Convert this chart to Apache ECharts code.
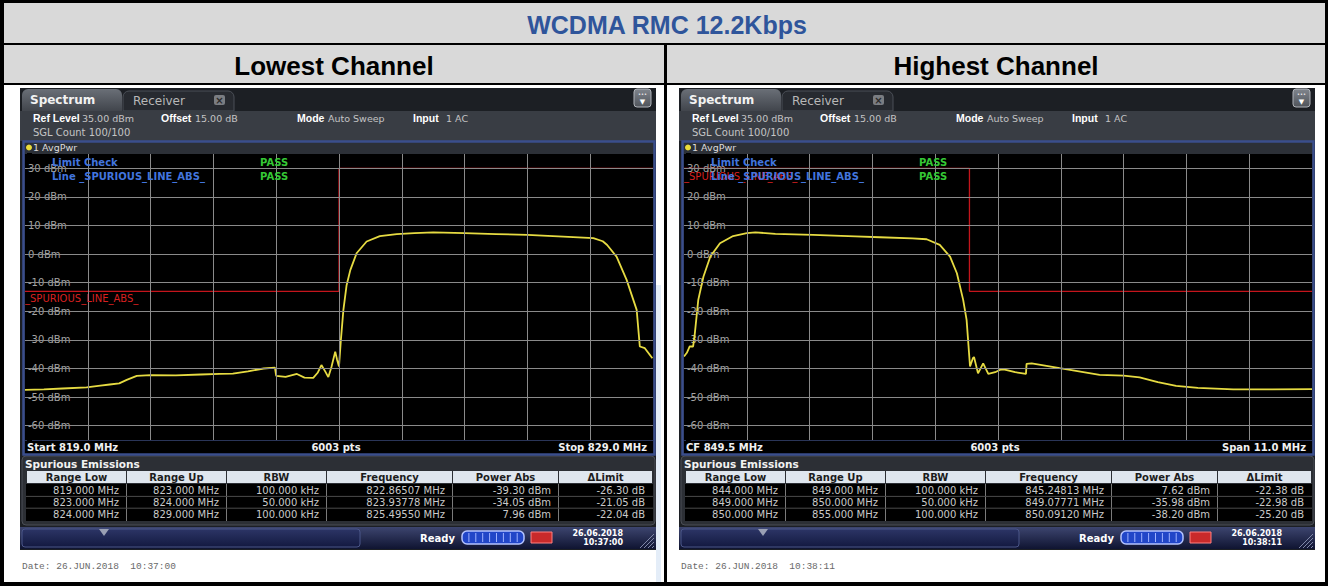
<!DOCTYPE html>
<html>
<head>
<meta charset="utf-8">
<script src="https://cdn.jsdelivr.net/npm/echarts@6/dist/echarts.min.js"></script>
<style>
html, body { margin: 0; padding: 0; background: #fff; }
#main { width: 1328px; height: 586px; }
</style>
</head>
<body>
<div id="main"></div>
<script>
// trace (MHz / dBm)
var lowFreq = [819.00, 819.30, 819.60, 819.98, 820.20, 820.35, 820.50, 820.62, 820.78, 821.00, 821.40, 821.80, 822.10, 822.31, 822.55, 822.80, 822.98,
  823.00, 823.15, 823.33, 823.45, 823.59, 823.66, 823.72, 823.78, 823.83, 823.88, 823.94, 823.97, 824.00,
  824.03, 824.07, 824.12, 824.18, 824.28, 824.44, 824.65, 824.92, 825.20, 825.50, 826.00, 826.50, 827.00, 827.57, 828.05, 828.20, 828.27,
  828.42, 828.58, 828.74, 828.79, 828.87, 828.99, 829.00];
var lowPower = [-47.5, -47.3, -47.0, -46.6, -46.0, -45.6, -45.2, -44.0, -42.6, -42.3, -42.4, -42.1, -41.9, -41.8, -41.0, -40.0, -39.7,
  -42.6, -42.9, -41.9, -43.2, -43.3, -41.5, -38.8, -41.0, -43.0, -39.5, -34.1, -37.0, -39.3,
  -30.0, -19.5, -11.0, -5.6, 0.3, 4.4, 6.3, 7.0, 7.3, 7.6, 7.3, 7.0, 6.7, 6.1, 5.6, 4.5, 3.2,
  -0.9, -9.0, -19.5, -32.3, -32.9, -36.4, -36.5];

// trace
var highFreq = [844.00, 844.05, 844.10, 844.16, 844.19, 844.25, 844.34, 844.46, 844.63, 844.86, 845.10, 845.25, 845.60, 846.26, 847.00, 847.43,
  848.00, 848.25, 848.48, 848.66, 848.78, 848.89, 848.95, 849.01, 849.06, 849.08, 849.15, 849.24, 849.33, 849.45, 849.53, 849.60, 849.80,
  849.99, 850.00, 850.09, 850.58, 851.28, 851.70, 851.98, 852.30, 852.62, 853.00, 853.62, 854.30, 855.00];
var highPower = [-35.8, -34.5, -32.3, -32.3, -27.7, -16.0, -7.9, -0.9, 3.8, 6.3, 7.3, 7.6, 7.1, 6.7, 6.2, 5.9,
  5.5, 5.2, 3.2, -0.9, -6.7, -16.0, -23.0, -39.3, -36.4, -36.0, -41.7, -38.2, -41.9, -41.3, -40.5, -40.3, -41.3,
  -41.9, -38.4, -38.2, -39.9, -42.2, -42.5, -43.1, -44.8, -46.1, -46.8, -47.3, -47.3, -47.2];

// limit lines
var lowLimitFreq = [819, 824, 824, 829];
var lowLimitLevel = [-13, -13, 30, 30];
var highLimitFreq = [844, 849, 849, 855];
var highLimitLevel = [30, 30, -13, -13];

// grid divisions
var levelTicks = [30, 20, 10, 0, -10, -20, -30, -40, -50, -60];
var lowFreqTicks = [820, 821, 822, 823, 824, 825, 826, 827, 828];
var highFreqTicks = [845.1, 846.2, 847.3, 848.4, 849.5, 850.6, 851.7, 852.8, 853.9];

// spurious emissions tables
var tableHead = ['Range Low', 'Range Up', 'RBW', 'Frequency', 'Power Abs', '\u0394Limit'];
var lowRows = [
  ['819.000 MHz', '823.000 MHz', '100.000 kHz', '822.86507 MHz', '-39.30 dBm', '-26.30 dB'],
  ['823.000 MHz', '824.000 MHz', '50.000 kHz', '823.93778 MHz', '-34.05 dBm', '-21.05 dB'],
  ['824.000 MHz', '829.000 MHz', '100.000 kHz', '825.49550 MHz', '7.96 dBm', '-22.04 dB']
];
var highRows = [
  ['844.000 MHz', '849.000 MHz', '100.000 kHz', '845.24813 MHz', '7.62 dBm', '-22.38 dB'],
  ['849.000 MHz', '850.000 MHz', '50.000 kHz', '849.07771 MHz', '-35.98 dBm', '-22.98 dB'],
  ['850.000 MHz', '855.000 MHz', '100.000 kHz', '850.09120 MHz', '-38.20 dBm', '-25.20 dB']
];

var UI = '"DejaVu Sans", sans-serif';
var ARIAL = '"Liberation Sans", Arial, sans-serif';
var cols = [[27, 126], [127, 226], [227, 326], [327, 452], [453, 558], [559, 652]];

function T(x, y, text, o) {
  o = o || {};
  return {
    type: 'text', x: x, y: y, z: o.z || 5, silent: true,
    style: {
      text: text, fill: o.fill || '#d8d8d8',
      fontSize: o.s || 10, fontFamily: o.f || UI, fontWeight: o.w || 'normal',
      align: o.a || 'left', verticalAlign: 'middle'
    }
  };
}
function R(x, y, w, h, o) {
  o = o || {};
  return {
    type: 'rect', z: o.z || 0, silent: true,
    shape: { x: x, y: y, width: w, height: h, r: o.r || 0 },
    style: { fill: o.fill || 'none', stroke: o.stroke || null, lineWidth: o.lw || 1 }
  };
}
function L(x1, y1, x2, y2, c, o) {
  o = o || {};
  return {
    type: 'line', z: o.z || 1, silent: true,
    shape: { x1: x1, y1: y1, x2: x2, y2: y2 },
    style: { stroke: c, lineWidth: o.lw || 1 }
  };
}
function grad(a, b) {
  return new echarts.graphic.LinearGradient(0, 0, 0, 1, [{ offset: 0, color: a }, { offset: 1, color: b }]);
}

function windowParts(dx, p) {
  var g = [];
  // tab bar
  g.push(R(dx + 20, 88, 636, 462, { fill: '#1c1f24' }));
  g.push(R(dx + 22, 89, 100, 22, { r: [6, 6, 0, 0], fill: grad('#6a6f77', '#41454c') }));
  g.push(T(dx + 30, 100, 'Spectrum', { s: 12, w: 'bold', fill: '#f2f2f2' }));
  g.push(R(dx + 123, 91, 111, 20, { r: [6, 6, 0, 0], fill: '#272a30', stroke: '#4b4f57' }));
  g.push(T(dx + 133, 100.5, 'Receiver', { s: 12, fill: '#b8b8b8' }));
  g.push(R(dx + 214, 95, 11, 10, { r: 2, fill: '#7a7d82' }));
  g.push(T(dx + 219.5, 100, '\u00d7', { s: 10, w: 'bold', fill: '#2a2a2a', a: 'center' }));
  g.push(R(dx + 634, 89, 17, 18, { r: 3, fill: grad('#80858d', '#50545b'), stroke: '#b0b4ba' }));
  g.push(T(dx + 642.5, 94, '\u2022\u2022\u2022', { s: 5, fill: '#fff', a: 'center' }));
  g.push(T(dx + 642.5, 101.5, '\u25bc', { s: 7, fill: '#fff', a: 'center' }));
  // info lines
  g.push(R(dx + 20, 111, 636, 30, { fill: '#393d44' }));
  var info = [['Ref Level', 33, 1], ['35.00 dBm', 82, 0], ['Offset', 161, 1], ['15.00 dB', 195, 0],
    ['Mode', 297, 1], ['Auto Sweep', 328, 0], ['Input', 413, 1], ['1 AC', 446, 0]];
  info.forEach(function (it) {
    g.push(it[2]
      ? T(dx + it[1], 118, it[0], { s: 10.5, f: ARIAL, w: 'bold', fill: '#ffffff' })
      : T(dx + it[1], 118, it[0], { s: 9.5, fill: '#c4c4c4' }));
  });
  g.push(T(dx + 33, 132, 'SGL Count 100/100', { s: 10, fill: '#c4c4c4' }));
  // trace bar
  g.push(R(dx + 23, 141, 632, 13, { fill: '#2c3037' }));
  g.push({ type: 'circle', z: 2, silent: true, shape: { cx: dx + 29, cy: 147.5, r: 3 }, style: { fill: '#eadb3a' } });
  g.push(T(dx + 33, 147.5, '1 AvgPwr', { s: 9.5, fill: '#dcdcdc' }));
  // plot area + bottom bar
  g.push(R(dx + 25, 154, 628, 286, { fill: '#000' }));
  g.push(R(dx + 25, 440, 628, 14, { fill: '#000' }));
  g.push(L(dx + 25, 440.5, dx + 653, 440.5, '#2a3558'));
  g.push(T(dx + 27, 447, p.left, { w: 'bold', fill: '#f0f0f0' }));
  g.push(T(dx + 336, 447, '6003 pts', { w: 'bold', fill: '#f0f0f0', a: 'center' }));
  g.push(T(dx + 647, 447, p.right, { w: 'bold', fill: '#f0f0f0', a: 'right' }));
  g.push(R(dx + 23.5, 141.5, 631, 313, { stroke: '#3a4e8c', lw: 2.5, z: 6 }));
  // spurious table
  g.push(R(dx + 22, 456, 633, 69, { r: 4, fill: '#2c2f35', stroke: '#4a4e56' }));
  g.push(T(dx + 25, 464, 'Spurious Emissions', { w: 'bold', fill: '#f2f2f2', s: 10.5 }));
  g.push(R(dx + 26, 484, 627, 37, { fill: '#000' }));
  cols.forEach(function (c, j) {
    g.push(R(dx + c[0], 471, c[1] - c[0], 12, { fill: '#dfe6ee' }));
    g.push(T(dx + (c[0] + c[1]) / 2, 477.5, tableHead[j], { w: 'bold', fill: '#1c1c1c', a: 'center' }));
    if (j > 0) g.push(L(dx + c[0] - 0.5, 484, dx + c[0] - 0.5, 521, '#7a7a7a'));
  });
  p.rows.forEach(function (r, i) {
    var yc = 490.5 + i * 11.8;
    if (i > 0) g.push(L(dx + 26, yc - 5.9, dx + 653, yc - 5.9, '#4a4a4a'));
    r.forEach(function (t, j) {
      g.push(T(dx + cols[j][1] - 7, yc, t, { fill: '#c9c9c9', a: 'right' }));
    });
  });
  // status bar
  g.push(R(dx + 20, 527, 636, 22, { fill: grad('#3d456f', '#0f1431') }));
  g.push(R(dx + 22, 529, 338, 18, { r: 3, fill: grad('#2c3566', '#131940'), stroke: '#4b5689' }));
  g.push({ type: 'polygon', z: 2, silent: true, shape: { points: [[dx + 99, 529], [dx + 109, 529], [dx + 104, 536]] }, style: { fill: '#9aa0b4' } });
  g.push(T(dx + 420, 538, 'Ready', { w: 'bold', fill: '#ffffff' }));
  g.push(R(dx + 462, 531, 62, 13, { r: 5, fill: '#2146c8', stroke: '#b4c4ff', lw: 1.5 }));
  for (var k = 1; k < 9; k++) g.push(L(dx + 462 + k * 6.9, 533, dx + 462 + k * 6.9, 542, '#9fb2ff', { z: 2 }));
  g.push(R(dx + 531, 532, 21, 11, { fill: '#c92a2a', stroke: '#ff8080' }));
  g.push(T(dx + 623, 533.5, p.d1, { w: 'bold', s: 8, fill: '#ffffff', a: 'right' }));
  g.push(T(dx + 623, 542.5, p.d2, { w: 'bold', s: 8, fill: '#ffffff', a: 'right' }));
  for (var m = 0; m < 4; m++) g.push(L(dx + 640 + m * 4, 548, dx + 654, 534 + m * 4, '#8088a8', { z: 2 }));
  // capture date
  g.push(T(dx + 22, 566.5, p.date, { f: '"Liberation Mono", monospace', s: 9.5, fill: '#6a6a6a' }));
  // limit check overlay
  g.push(T(dx + 52, 162, 'Limit Check', { w: 'bold', fill: '#4275de', z: 10 }));
  g.push(T(dx + 52, 176, 'Line _SPURIOUS_LINE_ABS_', { w: 'bold', fill: '#4275de', z: 10 }));
  g.push(T(dx + 260, 162, 'PASS', { w: 'bold', fill: '#35c935', z: 10 }));
  g.push(T(dx + 260, 176, 'PASS', { w: 'bold', fill: '#35c935', z: 10 }));
  g.push(T(dx + 25, p.limY, '_SPURIOUS_LINE_ABS_', { fill: '#d82020', z: 9 }));
  return g;
}

var graphic = [];
graphic.push(R(0, 0, 1328, 586, { fill: '#000' }));
graphic.push(R(4, 3, 1321, 40, { fill: '#d9d9d9' }));
graphic.push(R(4, 45, 660, 38, { fill: '#d9d9d9' }));
graphic.push(R(667, 45, 658, 38, { fill: '#d9d9d9' }));
graphic.push(R(4, 85, 660, 497, { fill: '#ffffff' }));
graphic.push(R(667, 85, 658, 497, { fill: '#ffffff' }));
graphic.push(R(656, 285, 5, 297, { fill: '#e4edf8' }));
graphic.push(T(667, 25, 'WCDMA RMC 12.2Kbps', { f: ARIAL, w: 'bold', s: 25, fill: '#2f559b', a: 'center' }));
graphic.push(T(334, 66, 'Lowest Channel', { f: ARIAL, w: 'bold', s: 26, fill: '#000', a: 'center' }));
graphic.push(T(996, 66, 'Highest Channel', { f: ARIAL, w: 'bold', s: 26, fill: '#000', a: 'center' }));
graphic = graphic.concat(windowParts(0, { left: 'Start 819.0 MHz', right: 'Stop 829.0 MHz', rows: lowRows, d1: '26.06.2018', d2: '10:37:00', date: 'Date: 26.JUN.2018  10:37:00', limY: 298 }));
graphic = graphic.concat(windowParts(659, { left: 'CF 849.5 MHz', right: 'Span 11.0 MHz', rows: highRows, d1: '26.06.2018', d2: '10:38:11', date: 'Date: 26.JUN.2018  10:38:11', limY: 176 }));

function pairs(xs, ys) { return xs.map(function (x, i) { return [x, ys[i]]; }); }

var chart = echarts.init(document.getElementById('main'), null, { renderer: 'svg', width: 1328, height: 586 });

var yAxisBase = function (i) {
  return {
    gridIndex: i, type: 'value', min: -65, max: 35, interval: 5, z: 2,
    axisLine: { show: false }, axisTick: { show: false }, splitLine: { show: false },
    axisLabel: {
      inside: true, margin: 2, color: '#a3a3a3', fontSize: 10, fontFamily: UI,
      backgroundColor: '#000', padding: [1, 4, 1, 1],
      formatter: function (v) { return (v % 10 === 0 && v > -65 && v < 35) ? v + ' dBm' : ''; }
    }
  };
};

function gridSeries(i, freqTicks) {
  return {
    type: 'line', xAxisIndex: i, yAxisIndex: i, data: [], z: 1, silent: true, animation: false,
    markLine: {
      silent: true, animation: false, symbol: ['none', 'none'], label: { show: false },
      lineStyle: { color: '#8a8a8a', width: 1, type: 'solid' },
      emphasis: { disabled: true },
      data: levelTicks.map(function (v) { return { yAxis: v }; })
        .concat(freqTicks.map(function (v) { return { xAxis: v }; }))
    }
  };
}
function traceSeries(i, data, color, width) {
  return {
    type: 'line', xAxisIndex: i, yAxisIndex: i, data: data, z: 3, showSymbol: false, silent: true,
    animation: false, lineStyle: { color: color, width: width }
  };
}

chart.setOption({
  animation: false,
  graphic: { elements: graphic },
  grid: [
    { left: 25, top: 154, width: 628, height: 286 },
    { left: 684, top: 154, width: 628, height: 286 }
  ],
  xAxis: [
    { gridIndex: 0, type: 'value', min: 819, max: 829, show: false },
    { gridIndex: 1, type: 'value', min: 844, max: 855, show: false }
  ],
  yAxis: [yAxisBase(0), yAxisBase(1)],
  series: [
    gridSeries(0, lowFreqTicks),
    gridSeries(1, highFreqTicks),
    traceSeries(0, pairs(lowLimitFreq, lowLimitLevel), '#c4151c', 1.3),
    traceSeries(1, pairs(highLimitFreq, highLimitLevel), '#c4151c', 1.3),
    traceSeries(0, pairs(lowFreq, lowPower), '#e6db42', 1.8),
    traceSeries(1, pairs(highFreq, highPower), '#e6db42', 1.8)
  ]
});
</script>
</body>
</html>
